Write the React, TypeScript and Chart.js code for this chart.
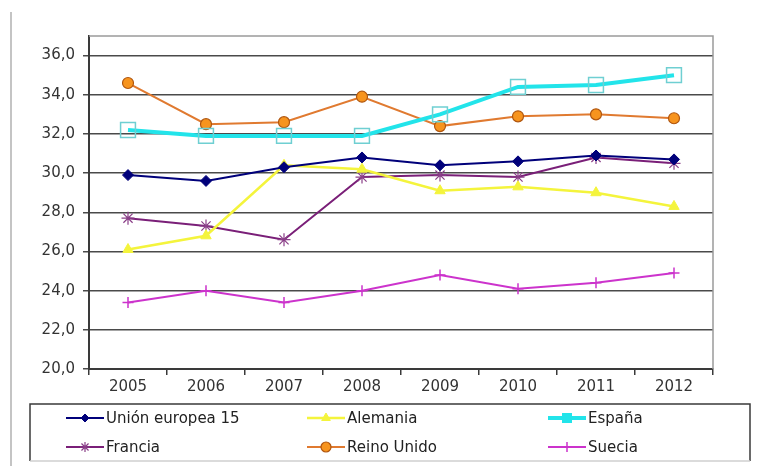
import React, { useEffect, useRef } from 'react';
import { Chart, registerables } from 'chart.js';
import { drawPoint } from 'chart.js/helpers';

Chart.register(...registerables);

const years = ['2005', '2006', '2007', '2008', '2009', '2010', '2011', '2012'];
const ue15 = [29.9, 29.6, 30.3, 30.8, 30.4, 30.6, 30.9, 30.7];
const alemania = [26.1, 26.8, 30.4, 30.2, 29.1, 29.3, 29.0, 28.3];
const espana = [32.2, 31.9, 31.9, 31.9, 33.0, 34.4, 34.5, 35.0];
const francia = [27.7, 27.3, 26.6, 29.8, 29.9, 29.8, 30.8, 30.5];
const reinoUnido = [34.6, 32.5, 32.6, 33.9, 32.4, 32.9, 33.0, 32.8];
const suecia = [23.4, 24.0, 23.4, 24.0, 24.8, 24.1, 24.4, 24.9];
const yTicks = [20, 22, 24, 26, 28, 30, 32, 34, 36];
const seriesNames = ['Unión europea 15', 'Alemania', 'España', 'Francia', 'Reino Unido', 'Suecia'];

const FONT = '"DejaVu Sans", sans-serif';

const decor = {
  id: 'decor',
  beforeDatasetsDraw(chart: any) {
    const { ctx, chartArea: a } = chart;
    ctx.save();
    ctx.strokeStyle = '#9a9a9a';
    ctx.lineWidth = 1.5;
    ctx.beginPath();
    ctx.moveTo(a.left, a.top);
    ctx.lineTo(a.right, a.top);
    ctx.lineTo(a.right, a.bottom);
    ctx.stroke();
    ctx.restore();
  },
  afterDraw(chart: any) {
    const ctx = chart.ctx;
    ctx.save();
    // page edge line
    ctx.strokeStyle = '#c4c4c4';
    ctx.lineWidth = 2;
    ctx.beginPath();
    ctx.moveTo(11, 12);
    ctx.lineTo(11, 466);
    ctx.stroke();
    // legend box
    ctx.strokeStyle = '#3a3a3a';
    ctx.lineWidth = 1.5;
    ctx.beginPath();
    ctx.moveTo(30, 461);
    ctx.lineTo(30, 404);
    ctx.lineTo(750, 404);
    ctx.lineTo(750, 461);
    ctx.stroke();
    ctx.strokeStyle = '#cfcfcf';
    ctx.beginPath();
    ctx.moveTo(30, 461);
    ctx.lineTo(750, 461);
    ctx.stroke();

    const cols = [66, 307, 548];
    const rows = [418, 447];
    chart.data.datasets.forEach((ds: any, i: number) => {
      const x0 = cols[i % 3];
      const y0 = rows[Math.floor(i / 3)];
      ctx.strokeStyle = ds.borderColor;
      ctx.lineWidth = ds.borderWidth;
      ctx.beginPath();
      ctx.moveTo(x0, y0);
      ctx.lineTo(x0 + 38, y0);
      ctx.stroke();
      ctx.fillStyle = ds.legendFill || ds.pointBackgroundColor;
      ctx.strokeStyle = ds.legendStroke || ds.pointBorderColor;
      ctx.lineWidth = ds.pointBorderWidth;
      drawPoint(ctx, { pointStyle: ds.pointStyle, radius: ds.legendRadius, borderWidth: ds.pointBorderWidth, rotation: 0 } as any, x0 + 19, y0);
      ctx.fillStyle = '#222';
      ctx.font = '15px ' + FONT;
      ctx.textBaseline = 'middle';
      ctx.textAlign = 'left';
      ctx.fillText(ds.label, x0 + 40, y0 + 1);
    });
    ctx.restore();
  },
};

export default function App() {
  const ref = useRef<HTMLCanvasElement>(null);
  useEffect(() => {
    const canvas = ref.current;
    if (!canvas) return;
    const chart = new Chart(canvas, {
      type: 'line',
      data: {
        labels: years,
        datasets: [
          {
            label: seriesNames[0], data: ue15, borderColor: '#00007a', borderWidth: 2,
            pointStyle: 'rectRot', pointRadius: 5.5, pointBackgroundColor: '#00007a', pointBorderColor: '#00007a', pointBorderWidth: 1,
            legendRadius: 4,
          },
          {
            label: seriesNames[1], data: alemania, borderColor: '#f4f43c', borderWidth: 2.5,
            pointStyle: 'triangle', pointRadius: 6, pointBackgroundColor: '#f4f43c', pointBorderColor: '#f4f43c', pointBorderWidth: 1,
            legendRadius: 5,
          },
          {
            label: seriesNames[2], data: espana, borderColor: '#22e4ea', borderWidth: 4,
            pointStyle: 'rect', pointRadius: 10.5, pointBackgroundColor: 'rgba(255,255,255,0)', pointBorderColor: '#6fcfd2', pointBorderWidth: 1.5,
            legendRadius: 6, legendFill: '#22e4ea', legendStroke: '#22e4ea',
          },
          {
            label: seriesNames[3], data: francia, borderColor: '#7a1f78', borderWidth: 2,
            pointStyle: 'star', pointRadius: 6.5, pointBackgroundColor: '#7a1f78', pointBorderColor: '#8a3f88', pointBorderWidth: 1.2,
            legendRadius: 5,
          },
          {
            label: seriesNames[4], data: reinoUnido, borderColor: '#e07a30', borderWidth: 2,
            pointStyle: 'circle', pointRadius: 5.5, pointBackgroundColor: '#f7941e', pointBorderColor: '#b0560f', pointBorderWidth: 1.2,
            legendRadius: 5,
          },
          {
            label: seriesNames[5], data: suecia, borderColor: '#cc33cc', borderWidth: 2,
            pointStyle: 'cross', pointRadius: 5.5, pointBackgroundColor: '#cc33cc', pointBorderColor: '#cc33cc', pointBorderWidth: 1.5,
            legendRadius: 5,
          },
        ] as any,
      },
      options: {
        animation: false,
        responsive: false,
        maintainAspectRatio: false,
        layout: { padding: { top: 36, right: 44, left: 0, bottom: 0 } },
        plugins: { legend: { display: false }, tooltip: { enabled: false } },
        scales: {
          x: {
            offset: true,
            grid: { offset: true, drawOnChartArea: false, drawTicks: true, tickLength: 6, color: '#3a3a3a', lineWidth: 1.5 },
            border: { display: true, color: '#3a3a3a', width: 2 },
            ticks: { font: { family: FONT, size: 15 }, color: '#333', padding: 3, maxRotation: 0 },
            afterFit: (s: any) => { s.height = 97; },
          },
          y: {
            min: 20,
            max: 37,
            afterBuildTicks: (s: any) => { s.ticks = yTicks.map((v) => ({ value: v })); },
            grid: { color: '#4a4a4a', lineWidth: 1.5, tickLength: 6, drawTicks: true },
            border: { display: true, color: '#3a3a3a', width: 2 },
            ticks: {
              font: { family: FONT, size: 15 }, color: '#333', padding: 8,
              callback: (v: any) => Number(v).toFixed(1).replace('.', ','),
            },
            afterFit: (s: any) => { s.width = 89; },
          },
        },
      },
      plugins: [decor],
    });
    return () => chart.destroy();
  }, []);
  return (
    <div style={{ position: 'absolute', left: 0, top: 0, width: 757, height: 466, background: '#fff' }}>
      <canvas ref={ref} width={757} height={466} style={{ display: 'block' }} />
    </div>
  );
}
